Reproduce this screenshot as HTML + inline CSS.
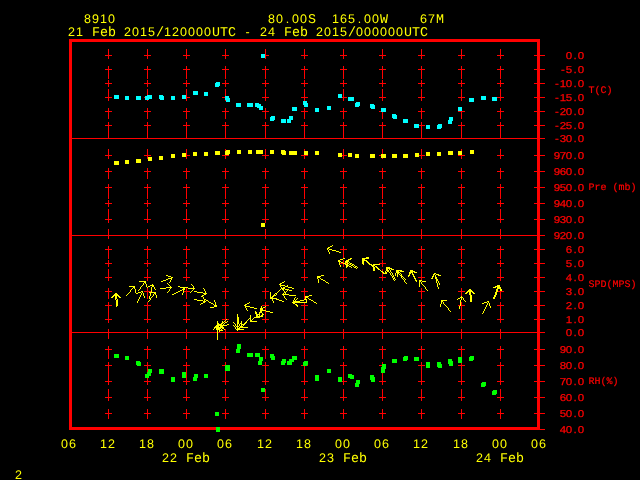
<!DOCTYPE html>
<html><head><meta charset="utf-8"><title>Meteogram 8910</title>
<style>
html,body{margin:0;padding:0;background:#000;}
body{width:640px;height:480px;overflow:hidden;}
svg{display:block;text-rendering:geometricPrecision;}
.big{font-family:"Liberation Sans","DejaVu Sans",sans-serif;font-size:12.5px;fill:#ff0;white-space:pre;}
.big .m{font-family:"Liberation Mono","DejaVu Sans Mono",monospace;font-size:13.33px;}
.sm{font-family:"Liberation Sans","DejaVu Sans",sans-serif;font-size:10px;fill:#f00;stroke:#f00;stroke-width:0.25px;white-space:pre;}
.smt{font-family:"Liberation Mono","DejaVu Sans Mono",monospace;font-size:10px;fill:#f00;stroke:#f00;stroke-width:0.2px;white-space:pre;}
</style></head><body>
<svg width="640" height="480" viewBox="0 0 640 480">
<rect width="640" height="480" fill="#000"/>
<g fill="#f00" shape-rendering="crispEdges">
<rect x="108" y="49" width="1" height="10"/><rect x="108" y="66" width="1" height="13"/><rect x="108" y="80" width="1" height="7"/><rect x="108" y="89" width="1" height="12"/><rect x="108" y="108" width="1" height="11"/><rect x="108" y="122" width="1" height="17"/><rect x="108" y="149" width="1" height="10"/><rect x="108" y="168" width="1" height="11"/><rect x="108" y="184" width="1" height="15"/><rect x="108" y="200" width="1" height="7"/><rect x="108" y="209" width="1" height="14"/><rect x="108" y="229" width="1" height="10"/><rect x="108" y="246" width="1" height="13"/><rect x="108" y="260" width="1" height="7"/><rect x="108" y="269" width="1" height="12"/><rect x="108" y="288" width="1" height="11"/><rect x="108" y="302" width="1" height="21"/><rect x="108" y="329" width="1" height="10"/><rect x="108" y="346" width="1" height="13"/><rect x="108" y="362" width="1" height="23"/><rect x="108" y="389" width="1" height="12"/><rect x="108" y="409" width="1" height="10"/><rect x="105" y="55" width="7" height="1"/><rect x="105" y="69" width="7" height="1"/><rect x="105" y="83" width="7" height="1"/><rect x="105" y="97" width="7" height="1"/><rect x="105" y="111" width="7" height="1"/><rect x="105" y="125" width="7" height="1"/><rect x="105" y="155" width="7" height="1"/><rect x="105" y="171" width="7" height="1"/><rect x="105" y="187" width="7" height="1"/><rect x="105" y="203" width="7" height="1"/><rect x="105" y="219" width="7" height="1"/><rect x="105" y="249" width="7" height="1"/><rect x="105" y="263" width="7" height="1"/><rect x="105" y="277" width="7" height="1"/><rect x="105" y="291" width="7" height="1"/><rect x="105" y="305" width="7" height="1"/><rect x="105" y="319" width="7" height="1"/><rect x="105" y="349" width="7" height="1"/><rect x="105" y="365" width="7" height="1"/><rect x="105" y="381" width="7" height="1"/><rect x="105" y="397" width="7" height="1"/><rect x="105" y="413" width="7" height="1"/>
<rect x="147" y="49" width="1" height="10"/><rect x="147" y="66" width="1" height="13"/><rect x="147" y="80" width="1" height="7"/><rect x="147" y="89" width="1" height="12"/><rect x="147" y="108" width="1" height="11"/><rect x="147" y="122" width="1" height="17"/><rect x="147" y="149" width="1" height="10"/><rect x="147" y="168" width="1" height="11"/><rect x="147" y="184" width="1" height="15"/><rect x="147" y="200" width="1" height="7"/><rect x="147" y="209" width="1" height="14"/><rect x="147" y="229" width="1" height="10"/><rect x="147" y="246" width="1" height="13"/><rect x="147" y="260" width="1" height="7"/><rect x="147" y="269" width="1" height="12"/><rect x="147" y="288" width="1" height="11"/><rect x="147" y="302" width="1" height="21"/><rect x="147" y="329" width="1" height="10"/><rect x="147" y="346" width="1" height="13"/><rect x="147" y="362" width="1" height="23"/><rect x="147" y="389" width="1" height="12"/><rect x="147" y="409" width="1" height="10"/><rect x="144" y="55" width="7" height="1"/><rect x="144" y="69" width="7" height="1"/><rect x="144" y="83" width="7" height="1"/><rect x="144" y="97" width="7" height="1"/><rect x="144" y="111" width="7" height="1"/><rect x="144" y="125" width="7" height="1"/><rect x="144" y="155" width="7" height="1"/><rect x="144" y="171" width="7" height="1"/><rect x="144" y="187" width="7" height="1"/><rect x="144" y="203" width="7" height="1"/><rect x="144" y="219" width="7" height="1"/><rect x="144" y="249" width="7" height="1"/><rect x="144" y="263" width="7" height="1"/><rect x="144" y="277" width="7" height="1"/><rect x="144" y="291" width="7" height="1"/><rect x="144" y="305" width="7" height="1"/><rect x="144" y="319" width="7" height="1"/><rect x="144" y="349" width="7" height="1"/><rect x="144" y="365" width="7" height="1"/><rect x="144" y="381" width="7" height="1"/><rect x="144" y="397" width="7" height="1"/><rect x="144" y="413" width="7" height="1"/>
<rect x="186" y="49" width="1" height="10"/><rect x="186" y="66" width="1" height="13"/><rect x="186" y="80" width="1" height="7"/><rect x="186" y="89" width="1" height="12"/><rect x="186" y="108" width="1" height="11"/><rect x="186" y="122" width="1" height="17"/><rect x="186" y="149" width="1" height="10"/><rect x="186" y="168" width="1" height="11"/><rect x="186" y="184" width="1" height="15"/><rect x="186" y="200" width="1" height="7"/><rect x="186" y="209" width="1" height="14"/><rect x="186" y="229" width="1" height="10"/><rect x="186" y="246" width="1" height="13"/><rect x="186" y="260" width="1" height="7"/><rect x="186" y="269" width="1" height="12"/><rect x="186" y="288" width="1" height="11"/><rect x="186" y="302" width="1" height="21"/><rect x="186" y="329" width="1" height="10"/><rect x="186" y="346" width="1" height="13"/><rect x="186" y="362" width="1" height="23"/><rect x="186" y="389" width="1" height="12"/><rect x="186" y="409" width="1" height="10"/><rect x="183" y="55" width="7" height="1"/><rect x="183" y="69" width="7" height="1"/><rect x="183" y="83" width="7" height="1"/><rect x="183" y="97" width="7" height="1"/><rect x="183" y="111" width="7" height="1"/><rect x="183" y="125" width="7" height="1"/><rect x="183" y="155" width="7" height="1"/><rect x="183" y="171" width="7" height="1"/><rect x="183" y="187" width="7" height="1"/><rect x="183" y="203" width="7" height="1"/><rect x="183" y="219" width="7" height="1"/><rect x="183" y="249" width="7" height="1"/><rect x="183" y="263" width="7" height="1"/><rect x="183" y="277" width="7" height="1"/><rect x="183" y="291" width="7" height="1"/><rect x="183" y="305" width="7" height="1"/><rect x="183" y="319" width="7" height="1"/><rect x="183" y="349" width="7" height="1"/><rect x="183" y="365" width="7" height="1"/><rect x="183" y="381" width="7" height="1"/><rect x="183" y="397" width="7" height="1"/><rect x="183" y="413" width="7" height="1"/>
<rect x="225" y="49" width="1" height="10"/><rect x="225" y="66" width="1" height="13"/><rect x="225" y="80" width="1" height="7"/><rect x="225" y="89" width="1" height="12"/><rect x="225" y="108" width="1" height="11"/><rect x="225" y="122" width="1" height="17"/><rect x="225" y="149" width="1" height="10"/><rect x="225" y="168" width="1" height="11"/><rect x="225" y="184" width="1" height="15"/><rect x="225" y="200" width="1" height="7"/><rect x="225" y="209" width="1" height="14"/><rect x="225" y="229" width="1" height="10"/><rect x="225" y="246" width="1" height="13"/><rect x="225" y="260" width="1" height="7"/><rect x="225" y="269" width="1" height="12"/><rect x="225" y="288" width="1" height="11"/><rect x="225" y="302" width="1" height="21"/><rect x="225" y="329" width="1" height="10"/><rect x="225" y="346" width="1" height="13"/><rect x="225" y="362" width="1" height="23"/><rect x="225" y="389" width="1" height="12"/><rect x="225" y="409" width="1" height="10"/><rect x="222" y="55" width="7" height="1"/><rect x="222" y="69" width="7" height="1"/><rect x="222" y="83" width="7" height="1"/><rect x="222" y="97" width="7" height="1"/><rect x="222" y="111" width="7" height="1"/><rect x="222" y="125" width="7" height="1"/><rect x="222" y="155" width="7" height="1"/><rect x="222" y="171" width="7" height="1"/><rect x="222" y="187" width="7" height="1"/><rect x="222" y="203" width="7" height="1"/><rect x="222" y="219" width="7" height="1"/><rect x="222" y="249" width="7" height="1"/><rect x="222" y="263" width="7" height="1"/><rect x="222" y="277" width="7" height="1"/><rect x="222" y="291" width="7" height="1"/><rect x="222" y="305" width="7" height="1"/><rect x="222" y="319" width="7" height="1"/><rect x="222" y="349" width="7" height="1"/><rect x="222" y="365" width="7" height="1"/><rect x="222" y="381" width="7" height="1"/><rect x="222" y="397" width="7" height="1"/><rect x="222" y="413" width="7" height="1"/>
<rect x="265" y="49" width="1" height="10"/><rect x="265" y="66" width="1" height="13"/><rect x="265" y="80" width="1" height="7"/><rect x="265" y="89" width="1" height="12"/><rect x="265" y="108" width="1" height="11"/><rect x="265" y="122" width="1" height="17"/><rect x="265" y="149" width="1" height="10"/><rect x="265" y="168" width="1" height="11"/><rect x="265" y="184" width="1" height="15"/><rect x="265" y="200" width="1" height="7"/><rect x="265" y="209" width="1" height="14"/><rect x="265" y="229" width="1" height="10"/><rect x="265" y="246" width="1" height="13"/><rect x="265" y="260" width="1" height="7"/><rect x="265" y="269" width="1" height="12"/><rect x="265" y="288" width="1" height="11"/><rect x="265" y="302" width="1" height="21"/><rect x="265" y="329" width="1" height="10"/><rect x="265" y="346" width="1" height="13"/><rect x="265" y="362" width="1" height="23"/><rect x="265" y="389" width="1" height="12"/><rect x="265" y="409" width="1" height="10"/><rect x="262" y="55" width="7" height="1"/><rect x="262" y="69" width="7" height="1"/><rect x="262" y="83" width="7" height="1"/><rect x="262" y="97" width="7" height="1"/><rect x="262" y="111" width="7" height="1"/><rect x="262" y="125" width="7" height="1"/><rect x="262" y="155" width="7" height="1"/><rect x="262" y="171" width="7" height="1"/><rect x="262" y="187" width="7" height="1"/><rect x="262" y="203" width="7" height="1"/><rect x="262" y="219" width="7" height="1"/><rect x="262" y="249" width="7" height="1"/><rect x="262" y="263" width="7" height="1"/><rect x="262" y="277" width="7" height="1"/><rect x="262" y="291" width="7" height="1"/><rect x="262" y="305" width="7" height="1"/><rect x="262" y="319" width="7" height="1"/><rect x="262" y="349" width="7" height="1"/><rect x="262" y="365" width="7" height="1"/><rect x="262" y="381" width="7" height="1"/><rect x="262" y="397" width="7" height="1"/><rect x="262" y="413" width="7" height="1"/>
<rect x="304" y="49" width="1" height="10"/><rect x="304" y="66" width="1" height="13"/><rect x="304" y="80" width="1" height="7"/><rect x="304" y="89" width="1" height="12"/><rect x="304" y="108" width="1" height="11"/><rect x="304" y="122" width="1" height="17"/><rect x="304" y="149" width="1" height="10"/><rect x="304" y="168" width="1" height="11"/><rect x="304" y="184" width="1" height="15"/><rect x="304" y="200" width="1" height="7"/><rect x="304" y="209" width="1" height="14"/><rect x="304" y="229" width="1" height="10"/><rect x="304" y="246" width="1" height="13"/><rect x="304" y="260" width="1" height="7"/><rect x="304" y="269" width="1" height="12"/><rect x="304" y="288" width="1" height="11"/><rect x="304" y="302" width="1" height="21"/><rect x="304" y="329" width="1" height="10"/><rect x="304" y="346" width="1" height="13"/><rect x="304" y="362" width="1" height="23"/><rect x="304" y="389" width="1" height="12"/><rect x="304" y="409" width="1" height="10"/><rect x="301" y="55" width="7" height="1"/><rect x="301" y="69" width="7" height="1"/><rect x="301" y="83" width="7" height="1"/><rect x="301" y="97" width="7" height="1"/><rect x="301" y="111" width="7" height="1"/><rect x="301" y="125" width="7" height="1"/><rect x="301" y="155" width="7" height="1"/><rect x="301" y="171" width="7" height="1"/><rect x="301" y="187" width="7" height="1"/><rect x="301" y="203" width="7" height="1"/><rect x="301" y="219" width="7" height="1"/><rect x="301" y="249" width="7" height="1"/><rect x="301" y="263" width="7" height="1"/><rect x="301" y="277" width="7" height="1"/><rect x="301" y="291" width="7" height="1"/><rect x="301" y="305" width="7" height="1"/><rect x="301" y="319" width="7" height="1"/><rect x="301" y="349" width="7" height="1"/><rect x="301" y="365" width="7" height="1"/><rect x="301" y="381" width="7" height="1"/><rect x="301" y="397" width="7" height="1"/><rect x="301" y="413" width="7" height="1"/>
<rect x="343" y="49" width="1" height="10"/><rect x="343" y="66" width="1" height="13"/><rect x="343" y="80" width="1" height="7"/><rect x="343" y="89" width="1" height="12"/><rect x="343" y="108" width="1" height="11"/><rect x="343" y="122" width="1" height="17"/><rect x="343" y="149" width="1" height="10"/><rect x="343" y="168" width="1" height="11"/><rect x="343" y="184" width="1" height="15"/><rect x="343" y="200" width="1" height="7"/><rect x="343" y="209" width="1" height="14"/><rect x="343" y="229" width="1" height="10"/><rect x="343" y="246" width="1" height="13"/><rect x="343" y="260" width="1" height="7"/><rect x="343" y="269" width="1" height="12"/><rect x="343" y="288" width="1" height="11"/><rect x="343" y="302" width="1" height="21"/><rect x="343" y="329" width="1" height="10"/><rect x="343" y="346" width="1" height="13"/><rect x="343" y="362" width="1" height="23"/><rect x="343" y="389" width="1" height="12"/><rect x="343" y="409" width="1" height="10"/><rect x="340" y="55" width="7" height="1"/><rect x="340" y="69" width="7" height="1"/><rect x="340" y="83" width="7" height="1"/><rect x="340" y="97" width="7" height="1"/><rect x="340" y="111" width="7" height="1"/><rect x="340" y="125" width="7" height="1"/><rect x="340" y="155" width="7" height="1"/><rect x="340" y="171" width="7" height="1"/><rect x="340" y="187" width="7" height="1"/><rect x="340" y="203" width="7" height="1"/><rect x="340" y="219" width="7" height="1"/><rect x="340" y="249" width="7" height="1"/><rect x="340" y="263" width="7" height="1"/><rect x="340" y="277" width="7" height="1"/><rect x="340" y="291" width="7" height="1"/><rect x="340" y="305" width="7" height="1"/><rect x="340" y="319" width="7" height="1"/><rect x="340" y="349" width="7" height="1"/><rect x="340" y="365" width="7" height="1"/><rect x="340" y="381" width="7" height="1"/><rect x="340" y="397" width="7" height="1"/><rect x="340" y="413" width="7" height="1"/>
<rect x="382" y="49" width="1" height="10"/><rect x="382" y="66" width="1" height="13"/><rect x="382" y="80" width="1" height="7"/><rect x="382" y="89" width="1" height="12"/><rect x="382" y="108" width="1" height="11"/><rect x="382" y="122" width="1" height="17"/><rect x="382" y="149" width="1" height="10"/><rect x="382" y="168" width="1" height="11"/><rect x="382" y="184" width="1" height="15"/><rect x="382" y="200" width="1" height="7"/><rect x="382" y="209" width="1" height="14"/><rect x="382" y="229" width="1" height="10"/><rect x="382" y="246" width="1" height="13"/><rect x="382" y="260" width="1" height="7"/><rect x="382" y="269" width="1" height="12"/><rect x="382" y="288" width="1" height="11"/><rect x="382" y="302" width="1" height="21"/><rect x="382" y="329" width="1" height="10"/><rect x="382" y="346" width="1" height="13"/><rect x="382" y="362" width="1" height="23"/><rect x="382" y="389" width="1" height="12"/><rect x="382" y="409" width="1" height="10"/><rect x="379" y="55" width="7" height="1"/><rect x="379" y="69" width="7" height="1"/><rect x="379" y="83" width="7" height="1"/><rect x="379" y="97" width="7" height="1"/><rect x="379" y="111" width="7" height="1"/><rect x="379" y="125" width="7" height="1"/><rect x="379" y="155" width="7" height="1"/><rect x="379" y="171" width="7" height="1"/><rect x="379" y="187" width="7" height="1"/><rect x="379" y="203" width="7" height="1"/><rect x="379" y="219" width="7" height="1"/><rect x="379" y="249" width="7" height="1"/><rect x="379" y="263" width="7" height="1"/><rect x="379" y="277" width="7" height="1"/><rect x="379" y="291" width="7" height="1"/><rect x="379" y="305" width="7" height="1"/><rect x="379" y="319" width="7" height="1"/><rect x="379" y="349" width="7" height="1"/><rect x="379" y="365" width="7" height="1"/><rect x="379" y="381" width="7" height="1"/><rect x="379" y="397" width="7" height="1"/><rect x="379" y="413" width="7" height="1"/>
<rect x="421" y="49" width="1" height="10"/><rect x="421" y="66" width="1" height="13"/><rect x="421" y="80" width="1" height="7"/><rect x="421" y="89" width="1" height="12"/><rect x="421" y="108" width="1" height="11"/><rect x="421" y="122" width="1" height="17"/><rect x="421" y="149" width="1" height="10"/><rect x="421" y="168" width="1" height="11"/><rect x="421" y="184" width="1" height="15"/><rect x="421" y="200" width="1" height="7"/><rect x="421" y="209" width="1" height="14"/><rect x="421" y="229" width="1" height="10"/><rect x="421" y="246" width="1" height="13"/><rect x="421" y="260" width="1" height="7"/><rect x="421" y="269" width="1" height="12"/><rect x="421" y="288" width="1" height="11"/><rect x="421" y="302" width="1" height="21"/><rect x="421" y="329" width="1" height="10"/><rect x="421" y="346" width="1" height="13"/><rect x="421" y="362" width="1" height="23"/><rect x="421" y="389" width="1" height="12"/><rect x="421" y="409" width="1" height="10"/><rect x="418" y="55" width="7" height="1"/><rect x="418" y="69" width="7" height="1"/><rect x="418" y="83" width="7" height="1"/><rect x="418" y="97" width="7" height="1"/><rect x="418" y="111" width="7" height="1"/><rect x="418" y="125" width="7" height="1"/><rect x="418" y="155" width="7" height="1"/><rect x="418" y="171" width="7" height="1"/><rect x="418" y="187" width="7" height="1"/><rect x="418" y="203" width="7" height="1"/><rect x="418" y="219" width="7" height="1"/><rect x="418" y="249" width="7" height="1"/><rect x="418" y="263" width="7" height="1"/><rect x="418" y="277" width="7" height="1"/><rect x="418" y="291" width="7" height="1"/><rect x="418" y="305" width="7" height="1"/><rect x="418" y="319" width="7" height="1"/><rect x="418" y="349" width="7" height="1"/><rect x="418" y="365" width="7" height="1"/><rect x="418" y="381" width="7" height="1"/><rect x="418" y="397" width="7" height="1"/><rect x="418" y="413" width="7" height="1"/>
<rect x="461" y="49" width="1" height="10"/><rect x="461" y="66" width="1" height="13"/><rect x="461" y="80" width="1" height="7"/><rect x="461" y="89" width="1" height="12"/><rect x="461" y="108" width="1" height="11"/><rect x="461" y="122" width="1" height="17"/><rect x="461" y="149" width="1" height="10"/><rect x="461" y="168" width="1" height="11"/><rect x="461" y="184" width="1" height="15"/><rect x="461" y="200" width="1" height="7"/><rect x="461" y="209" width="1" height="14"/><rect x="461" y="229" width="1" height="10"/><rect x="461" y="246" width="1" height="13"/><rect x="461" y="260" width="1" height="7"/><rect x="461" y="269" width="1" height="12"/><rect x="461" y="288" width="1" height="11"/><rect x="461" y="302" width="1" height="21"/><rect x="461" y="329" width="1" height="10"/><rect x="461" y="346" width="1" height="13"/><rect x="461" y="362" width="1" height="23"/><rect x="461" y="389" width="1" height="12"/><rect x="461" y="409" width="1" height="10"/><rect x="458" y="55" width="7" height="1"/><rect x="458" y="69" width="7" height="1"/><rect x="458" y="83" width="7" height="1"/><rect x="458" y="97" width="7" height="1"/><rect x="458" y="111" width="7" height="1"/><rect x="458" y="125" width="7" height="1"/><rect x="458" y="155" width="7" height="1"/><rect x="458" y="171" width="7" height="1"/><rect x="458" y="187" width="7" height="1"/><rect x="458" y="203" width="7" height="1"/><rect x="458" y="219" width="7" height="1"/><rect x="458" y="249" width="7" height="1"/><rect x="458" y="263" width="7" height="1"/><rect x="458" y="277" width="7" height="1"/><rect x="458" y="291" width="7" height="1"/><rect x="458" y="305" width="7" height="1"/><rect x="458" y="319" width="7" height="1"/><rect x="458" y="349" width="7" height="1"/><rect x="458" y="365" width="7" height="1"/><rect x="458" y="381" width="7" height="1"/><rect x="458" y="397" width="7" height="1"/><rect x="458" y="413" width="7" height="1"/>
<rect x="500" y="49" width="1" height="10"/><rect x="500" y="66" width="1" height="13"/><rect x="500" y="80" width="1" height="7"/><rect x="500" y="89" width="1" height="12"/><rect x="500" y="108" width="1" height="11"/><rect x="500" y="122" width="1" height="17"/><rect x="500" y="149" width="1" height="10"/><rect x="500" y="168" width="1" height="11"/><rect x="500" y="184" width="1" height="15"/><rect x="500" y="200" width="1" height="7"/><rect x="500" y="209" width="1" height="14"/><rect x="500" y="229" width="1" height="10"/><rect x="500" y="246" width="1" height="13"/><rect x="500" y="260" width="1" height="7"/><rect x="500" y="269" width="1" height="12"/><rect x="500" y="288" width="1" height="11"/><rect x="500" y="302" width="1" height="21"/><rect x="500" y="329" width="1" height="10"/><rect x="500" y="346" width="1" height="13"/><rect x="500" y="362" width="1" height="23"/><rect x="500" y="389" width="1" height="12"/><rect x="500" y="409" width="1" height="10"/><rect x="497" y="55" width="7" height="1"/><rect x="497" y="69" width="7" height="1"/><rect x="497" y="83" width="7" height="1"/><rect x="497" y="97" width="7" height="1"/><rect x="497" y="111" width="7" height="1"/><rect x="497" y="125" width="7" height="1"/><rect x="497" y="155" width="7" height="1"/><rect x="497" y="171" width="7" height="1"/><rect x="497" y="187" width="7" height="1"/><rect x="497" y="203" width="7" height="1"/><rect x="497" y="219" width="7" height="1"/><rect x="497" y="249" width="7" height="1"/><rect x="497" y="263" width="7" height="1"/><rect x="497" y="277" width="7" height="1"/><rect x="497" y="291" width="7" height="1"/><rect x="497" y="305" width="7" height="1"/><rect x="497" y="319" width="7" height="1"/><rect x="497" y="349" width="7" height="1"/><rect x="497" y="365" width="7" height="1"/><rect x="497" y="381" width="7" height="1"/><rect x="497" y="397" width="7" height="1"/><rect x="497" y="413" width="7" height="1"/>
<rect x="72" y="138" width="473" height="1"/><rect x="72" y="235" width="473" height="1"/><rect x="72" y="332" width="473" height="1"/><rect x="534" y="55" width="11" height="1"/><rect x="534" y="69" width="11" height="1"/><rect x="534" y="83" width="11" height="1"/><rect x="534" y="97" width="11" height="1"/><rect x="534" y="111" width="11" height="1"/><rect x="534" y="125" width="11" height="1"/><rect x="534" y="155" width="11" height="1"/><rect x="534" y="171" width="11" height="1"/><rect x="534" y="187" width="11" height="1"/><rect x="534" y="203" width="11" height="1"/><rect x="534" y="219" width="11" height="1"/><rect x="534" y="249" width="11" height="1"/><rect x="534" y="263" width="11" height="1"/><rect x="534" y="277" width="11" height="1"/><rect x="534" y="291" width="11" height="1"/><rect x="534" y="305" width="11" height="1"/><rect x="534" y="319" width="11" height="1"/><rect x="534" y="349" width="11" height="1"/><rect x="534" y="365" width="11" height="1"/><rect x="534" y="381" width="11" height="1"/><rect x="534" y="397" width="11" height="1"/><rect x="534" y="413" width="11" height="1"/><rect x="534" y="429" width="11" height="1"/>
<rect x="69" y="39" width="471" height="3"/><rect x="69" y="427" width="471" height="3"/><rect x="69" y="39" width="3" height="391"/><rect x="537" y="39" width="3" height="391"/>
</g>
<g fill="#0ff" shape-rendering="crispEdges"><rect x="114" y="95" width="5" height="4"/><rect x="125" y="96" width="4" height="4"/><rect x="136" y="96" width="5" height="4"/><rect x="145" y="96" width="4" height="4"/><rect x="147" y="95" width="5" height="4"/><rect x="159" y="95" width="4" height="4"/><rect x="160" y="96" width="4" height="4"/><rect x="171" y="96" width="4" height="4"/><rect x="182" y="95" width="4" height="4"/><rect x="193" y="91" width="5" height="4"/><rect x="204" y="92" width="4" height="4"/><rect x="215" y="83" width="4" height="4"/><rect x="216" y="82" width="4" height="4"/><rect x="225" y="96" width="4" height="4"/><rect x="226" y="98" width="4" height="4"/><rect x="236" y="103" width="5" height="4"/><rect x="247" y="103" width="6" height="4"/><rect x="255" y="103" width="4" height="4"/><rect x="257" y="104" width="4" height="4"/><rect x="259" y="106" width="4" height="4"/><rect x="261" y="54" width="4" height="4"/><rect x="270" y="117" width="4" height="4"/><rect x="271" y="116" width="4" height="4"/><rect x="281" y="119" width="5" height="4"/><rect x="287" y="119" width="4" height="4"/><rect x="289" y="116" width="4" height="4"/><rect x="292" y="107" width="5" height="4"/><rect x="303" y="101" width="4" height="4"/><rect x="304" y="103" width="4" height="4"/><rect x="315" y="108" width="4" height="4"/><rect x="327" y="106" width="4" height="4"/><rect x="338" y="94" width="4" height="4"/><rect x="348" y="97" width="6" height="4"/><rect x="355" y="103" width="4" height="4"/><rect x="356" y="102" width="4" height="4"/><rect x="370" y="104" width="4" height="4"/><rect x="371" y="105" width="4" height="4"/><rect x="381" y="108" width="5" height="4"/><rect x="392" y="114" width="4" height="4"/><rect x="393" y="115" width="4" height="4"/><rect x="403" y="119" width="5" height="4"/><rect x="414" y="124" width="5" height="4"/><rect x="426" y="125" width="4" height="4"/><rect x="437" y="125" width="4" height="4"/><rect x="438" y="124" width="4" height="4"/><rect x="448" y="120" width="4" height="4"/><rect x="449" y="117" width="4" height="4"/><rect x="458" y="107" width="4" height="4"/><rect x="469" y="98" width="5" height="4"/><rect x="481" y="96" width="5" height="4"/><rect x="492" y="97" width="5" height="4"/></g>
<g fill="#ff0" shape-rendering="crispEdges"><rect x="114" y="161" width="5" height="4"/><rect x="125" y="160" width="4" height="4"/><rect x="136" y="159" width="5" height="4"/><rect x="148" y="157" width="4" height="4"/><rect x="159" y="156" width="4" height="4"/><rect x="171" y="154" width="4" height="4"/><rect x="182" y="153" width="4" height="4"/><rect x="193" y="152" width="4" height="4"/><rect x="204" y="152" width="4" height="4"/><rect x="215" y="151" width="5" height="4"/><rect x="225" y="151" width="4" height="4"/><rect x="226" y="150" width="4" height="4"/><rect x="237" y="150" width="4" height="4"/><rect x="248" y="150" width="4" height="4"/><rect x="256" y="150" width="7" height="4"/><rect x="270" y="150" width="4" height="4"/><rect x="281" y="150" width="4" height="4"/><rect x="282" y="151" width="4" height="4"/><rect x="289" y="151" width="8" height="4"/><rect x="304" y="151" width="4" height="4"/><rect x="315" y="151" width="4" height="4"/><rect x="261" y="223" width="4" height="4"/><rect x="338" y="153" width="4" height="4"/><rect x="348" y="153" width="4" height="4"/><rect x="355" y="154" width="4" height="4"/><rect x="370" y="154" width="5" height="4"/><rect x="381" y="154" width="5" height="4"/><rect x="392" y="154" width="5" height="4"/><rect x="403" y="154" width="5" height="4"/><rect x="415" y="153" width="4" height="4"/><rect x="426" y="152" width="4" height="4"/><rect x="437" y="152" width="4" height="4"/><rect x="448" y="151" width="5" height="4"/><rect x="458" y="151" width="4" height="4"/><rect x="470" y="150" width="4" height="4"/></g>
<g fill="#0f0" shape-rendering="crispEdges"><rect x="114" y="354" width="5" height="4"/><rect x="125" y="356" width="4" height="4"/><rect x="136" y="361" width="4" height="4"/><rect x="137" y="362" width="4" height="4"/><rect x="145" y="374" width="4" height="4"/><rect x="147" y="372" width="4" height="4"/><rect x="148" y="369" width="4" height="4"/><rect x="159" y="369" width="5" height="5"/><rect x="171" y="377" width="4" height="5"/><rect x="182" y="372" width="4" height="6"/><rect x="193" y="377" width="4" height="4"/><rect x="194" y="374" width="4" height="4"/><rect x="204" y="374" width="4" height="4"/><rect x="215" y="412" width="4" height="4"/><rect x="225" y="365" width="5" height="6"/><rect x="236" y="349" width="4" height="4"/><rect x="237" y="344" width="4" height="5"/><rect x="247" y="353" width="6" height="4"/><rect x="255" y="353" width="5" height="4"/><rect x="259" y="357" width="4" height="4"/><rect x="258" y="361" width="4" height="4"/><rect x="261" y="388" width="4" height="4"/><rect x="270" y="354" width="4" height="4"/><rect x="271" y="356" width="4" height="4"/><rect x="281" y="361" width="4" height="4"/><rect x="282" y="359" width="4" height="4"/><rect x="287" y="361" width="5" height="4"/><rect x="289" y="359" width="5" height="3"/><rect x="292" y="356" width="5" height="4"/><rect x="303" y="362" width="4" height="4"/><rect x="304" y="361" width="4" height="4"/><rect x="315" y="375" width="4" height="6"/><rect x="327" y="369" width="4" height="4"/><rect x="338" y="377" width="4" height="5"/><rect x="348" y="374" width="4" height="4"/><rect x="350" y="375" width="4" height="4"/><rect x="355" y="383" width="4" height="4"/><rect x="356" y="380" width="4" height="4"/><rect x="370" y="375" width="4" height="5"/><rect x="371" y="377" width="4" height="5"/><rect x="381" y="367" width="4" height="6"/><rect x="382" y="364" width="4" height="5"/><rect x="392" y="359" width="5" height="4"/><rect x="403" y="357" width="4" height="4"/><rect x="404" y="356" width="4" height="4"/><rect x="414" y="357" width="5" height="4"/><rect x="426" y="362" width="4" height="6"/><rect x="437" y="362" width="4" height="5"/><rect x="438" y="364" width="4" height="4"/><rect x="448" y="359" width="4" height="5"/><rect x="449" y="361" width="4" height="5"/><rect x="458" y="357" width="4" height="6"/><rect x="469" y="357" width="4" height="4"/><rect x="470" y="356" width="4" height="4"/><rect x="481" y="383" width="4" height="4"/><rect x="482" y="382" width="4" height="4"/><rect x="492" y="391" width="4" height="4"/><rect x="493" y="390" width="4" height="4"/><rect x="216" y="427" width="4" height="5"/></g>
<path fill="#ff0" shape-rendering="crispEdges" d="M332 245h1v1h-1zM330 246h2v1h-2zM328 247h2v1h-2zM327 248h2v1h-2zM327 249h1v1h-1zM329 249h3v1h-3zM328 250h1v1h-1zM332 250h4v1h-4zM328 251h1v1h-1zM336 251h3v1h-3zM329 252h1v1h-1zM339 252h2v1h-2zM329 253h1v1h-1zM366 257h3v1h-3zM343 258h2v1h-2zM350 258h2v1h-2zM362 258h7v1h-7zM340 259h3v1h-3zM348 259h3v1h-3zM362 259h3v1h-3zM338 260h2v1h-2zM346 260h3v1h-3zM362 260h5v1h-5zM338 261h3v1h-3zM345 261h4v1h-4zM362 261h2v1h-2zM366 261h2v1h-2zM339 262h1v1h-1zM341 262h2v1h-2zM345 262h3v1h-3zM349 262h1v1h-1zM362 262h2v1h-2zM367 262h2v1h-2zM339 263h1v1h-1zM343 263h3v1h-3zM347 263h2v1h-2zM350 263h2v1h-2zM362 263h2v1h-2zM368 263h2v1h-2zM339 264h1v1h-1zM345 264h3v1h-3zM349 264h2v1h-2zM352 264h2v1h-2zM363 264h1v1h-1zM369 264h3v1h-3zM373 264h7v1h-7zM340 265h1v1h-1zM346 265h3v1h-3zM351 265h2v1h-2zM354 265h1v1h-1zM371 265h4v1h-4zM340 266h1v1h-1zM346 266h2v1h-2zM349 266h2v1h-2zM353 266h1v1h-1zM355 266h2v1h-2zM372 266h2v1h-2zM375 266h2v1h-2zM346 267h1v1h-1zM351 267h1v1h-1zM354 267h2v1h-2zM357 267h1v1h-1zM373 267h2v1h-2zM376 267h2v1h-2zM386 267h4v1h-4zM356 268h1v1h-1zM373 268h2v1h-2zM377 268h2v1h-2zM386 268h6v1h-6zM373 269h2v1h-2zM378 269h2v1h-2zM386 269h2v1h-2zM389 269h1v1h-1zM391 269h3v1h-3zM373 270h2v1h-2zM380 270h1v1h-1zM386 270h3v1h-3zM390 270h1v1h-1zM396 270h6v1h-6zM410 270h3v1h-3zM381 271h2v1h-2zM385 271h1v1h-1zM387 271h2v1h-2zM390 271h1v1h-1zM396 271h3v1h-3zM400 271h4v1h-4zM410 271h5v1h-5zM382 272h2v1h-2zM385 272h2v1h-2zM389 272h1v1h-1zM391 272h1v1h-1zM396 272h4v1h-4zM409 272h4v1h-4zM414 272h3v1h-3zM383 273h4v1h-4zM390 273h1v1h-1zM392 273h1v1h-1zM395 273h1v1h-1zM397 273h2v1h-2zM400 273h1v1h-1zM409 273h2v1h-2zM412 273h1v1h-1zM434 273h2v1h-2zM390 274h1v1h-1zM392 274h1v1h-1zM395 274h1v1h-1zM397 274h1v1h-1zM399 274h1v1h-1zM401 274h1v1h-1zM409 274h1v1h-1zM412 274h2v1h-2zM433 274h2v1h-2zM436 274h3v1h-3zM166 275h2v1h-2zM321 275h3v1h-3zM391 275h1v1h-1zM393 275h1v1h-1zM395 275h1v1h-1zM397 275h1v1h-1zM400 275h2v1h-2zM408 275h2v1h-2zM413 275h1v1h-1zM433 275h1v1h-1zM435 275h1v1h-1zM438 275h3v1h-3zM168 276h3v1h-3zM317 276h4v1h-4zM392 276h2v1h-2zM397 276h1v1h-1zM401 276h2v1h-2zM408 276h1v1h-1zM413 276h2v1h-2zM432 276h2v1h-2zM435 276h1v1h-1zM171 277h2v1h-2zM317 277h3v1h-3zM392 277h1v1h-1zM394 277h1v1h-1zM401 277h1v1h-1zM403 277h1v1h-1zM414 277h1v1h-1zM432 277h1v1h-1zM435 277h2v1h-2zM168 278h4v1h-4zM317 278h1v1h-1zM320 278h1v1h-1zM393 278h2v1h-2zM402 278h1v1h-1zM404 278h1v1h-1zM414 278h2v1h-2zM431 278h2v1h-2zM435 278h2v1h-2zM166 279h2v1h-2zM171 279h1v1h-1zM318 279h1v1h-1zM321 279h2v1h-2zM393 279h1v1h-1zM395 279h1v1h-1zM403 279h1v1h-1zM405 279h1v1h-1zM415 279h1v1h-1zM436 279h2v1h-2zM163 280h3v1h-3zM170 280h1v1h-1zM318 280h1v1h-1zM323 280h2v1h-2zM394 280h1v1h-1zM404 280h1v1h-1zM415 280h2v1h-2zM419 280h3v1h-3zM436 280h2v1h-2zM139 281h7v1h-7zM161 281h2v1h-2zM170 281h1v1h-1zM284 281h1v1h-1zM318 281h1v1h-1zM325 281h1v1h-1zM404 281h1v1h-1zM416 281h1v1h-1zM419 281h2v1h-2zM422 281h4v1h-4zM436 281h1v1h-1zM438 281h1v1h-1zM144 282h2v1h-2zM169 282h1v1h-1zM282 282h2v1h-2zM318 282h1v1h-1zM326 282h2v1h-2zM405 282h1v1h-1zM419 282h1v1h-1zM421 282h1v1h-1zM436 282h1v1h-1zM438 282h1v1h-1zM143 283h1v1h-1zM145 283h1v1h-1zM167 283h1v1h-1zM280 283h2v1h-2zM328 283h1v1h-1zM406 283h1v1h-1zM419 283h1v1h-1zM421 283h1v1h-1zM437 283h1v1h-1zM439 283h1v1h-1zM143 284h1v1h-1zM146 284h1v1h-1zM152 284h1v1h-1zM168 284h1v1h-1zM191 284h1v1h-1zM279 284h2v1h-2zM419 284h1v1h-1zM422 284h1v1h-1zM437 284h1v1h-1zM439 284h1v1h-1zM142 285h1v1h-1zM146 285h1v1h-1zM150 285h4v1h-4zM169 285h1v1h-1zM192 285h1v1h-1zM280 285h5v1h-5zM287 285h1v1h-1zM419 285h1v1h-1zM423 285h1v1h-1zM437 285h1v1h-1zM497 285h3v1h-3zM129 286h6v1h-6zM141 286h1v1h-1zM146 286h1v1h-1zM148 286h2v1h-2zM152 286h2v1h-2zM170 286h1v1h-1zM178 286h2v1h-2zM193 286h1v1h-1zM280 286h1v1h-1zM285 286h3v1h-3zM419 286h1v1h-1zM424 286h1v1h-1zM437 286h1v1h-1zM495 286h5v1h-5zM133 287h2v1h-2zM140 287h1v1h-1zM147 287h1v1h-1zM151 287h1v1h-1zM154 287h1v1h-1zM166 287h6v1h-6zM180 287h8v1h-8zM193 287h1v1h-1zM281 287h1v1h-1zM283 287h2v1h-2zM288 287h4v1h-4zM425 287h1v1h-1zM438 287h1v1h-1zM493 287h3v1h-3zM497 287h4v1h-4zM132 288h1v1h-1zM134 288h1v1h-1zM140 288h1v1h-1zM151 288h1v1h-1zM154 288h1v1h-1zM160 288h6v1h-6zM170 288h1v1h-1zM183 288h2v1h-2zM188 288h7v1h-7zM203 288h1v1h-1zM281 288h4v1h-4zM292 288h2v1h-2zM425 288h1v1h-1zM438 288h1v1h-1zM497 288h4v1h-4zM131 289h1v1h-1zM135 289h1v1h-1zM139 289h1v1h-1zM151 289h1v1h-1zM155 289h1v1h-1zM169 289h1v1h-1zM182 289h3v1h-3zM193 289h1v1h-1zM204 289h1v1h-1zM280 289h1v1h-1zM282 289h2v1h-2zM285 289h4v1h-4zM426 289h1v1h-1zM469 289h2v1h-2zM496 289h2v1h-2zM500 289h2v1h-2zM130 290h1v1h-1zM135 290h1v1h-1zM138 290h1v1h-1zM151 290h1v1h-1zM169 290h1v1h-1zM180 290h2v1h-2zM183 290h1v1h-1zM192 290h1v1h-1zM204 290h1v1h-1zM279 290h1v1h-1zM283 290h1v1h-1zM287 290h1v1h-1zM289 290h3v1h-3zM427 290h1v1h-1zM468 290h4v1h-4zM496 290h2v1h-2zM500 290h2v1h-2zM130 291h1v1h-1zM135 291h1v1h-1zM141 291h2v1h-2zM151 291h1v1h-1zM168 291h1v1h-1zM178 291h2v1h-2zM183 291h1v1h-1zM191 291h1v1h-1zM194 291h3v1h-3zM205 291h1v1h-1zM278 291h1v1h-1zM284 291h1v1h-1zM286 291h1v1h-1zM467 291h6v1h-6zM496 291h2v1h-2zM129 292h1v1h-1zM135 292h1v1h-1zM138 292h3v1h-3zM142 292h1v1h-1zM149 292h7v1h-7zM167 292h1v1h-1zM176 292h2v1h-2zM183 292h1v1h-1zM190 292h1v1h-1zM197 292h6v1h-6zM205 292h1v1h-1zM270 292h1v1h-1zM277 292h1v1h-1zM284 292h2v1h-2zM466 292h2v1h-2zM469 292h2v1h-2zM472 292h2v1h-2zM495 292h2v1h-2zM115 293h2v1h-2zM128 293h1v1h-1zM136 293h2v1h-2zM141 293h1v1h-1zM143 293h1v1h-1zM150 293h1v1h-1zM154 293h2v1h-2zM174 293h2v1h-2zM182 293h1v1h-1zM203 293h4v1h-4zM270 293h1v1h-1zM275 293h2v1h-2zM283 293h1v1h-1zM285 293h1v1h-1zM465 293h2v1h-2zM469 293h2v1h-2zM473 293h2v1h-2zM495 293h2v1h-2zM114 294h4v1h-4zM127 294h1v1h-1zM141 294h1v1h-1zM143 294h1v1h-1zM150 294h1v1h-1zM153 294h1v1h-1zM155 294h1v1h-1zM172 294h2v1h-2zM182 294h1v1h-1zM204 294h2v1h-2zM270 294h1v1h-1zM274 294h1v1h-1zM276 294h1v1h-1zM282 294h7v1h-7zM469 294h2v1h-2zM495 294h2v1h-2zM113 295h6v1h-6zM126 295h1v1h-1zM140 295h1v1h-1zM143 295h1v1h-1zM150 295h1v1h-1zM153 295h1v1h-1zM156 295h1v1h-1zM202 295h2v1h-2zM270 295h1v1h-1zM273 295h3v1h-3zM283 295h1v1h-1zM289 295h7v1h-7zM309 295h3v1h-3zM470 295h2v1h-2zM494 295h2v1h-2zM112 296h2v1h-2zM115 296h2v1h-2zM118 296h2v1h-2zM140 296h1v1h-1zM144 296h1v1h-1zM149 296h1v1h-1zM152 296h1v1h-1zM156 296h1v1h-1zM201 296h2v1h-2zM270 296h1v1h-1zM272 296h2v1h-2zM284 296h1v1h-1zM305 296h4v1h-4zM461 296h1v1h-1zM470 296h2v1h-2zM494 296h2v1h-2zM111 297h2v1h-2zM115 297h2v1h-2zM119 297h2v1h-2zM139 297h1v1h-1zM144 297h1v1h-1zM149 297h1v1h-1zM151 297h1v1h-1zM156 297h1v1h-1zM203 297h1v1h-1zM270 297h3v1h-3zM284 297h1v1h-1zM295 297h1v1h-1zM305 297h3v1h-3zM460 297h3v1h-3zM470 297h2v1h-2zM493 297h2v1h-2zM115 298h2v1h-2zM139 298h1v1h-1zM149 298h2v1h-2zM203 298h1v1h-1zM270 298h7v1h-7zM285 298h1v1h-1zM294 298h1v1h-1zM297 298h1v1h-1zM305 298h1v1h-1zM308 298h1v1h-1zM458 298h2v1h-2zM461 298h1v1h-1zM463 298h1v1h-1zM470 298h2v1h-2zM493 298h2v1h-2zM115 299h1v1h-1zM117 299h1v1h-1zM138 299h1v1h-1zM150 299h1v1h-1zM194 299h3v1h-3zM204 299h2v1h-2zM272 299h1v1h-1zM276 299h3v1h-3zM286 299h1v1h-1zM294 299h1v1h-1zM296 299h1v1h-1zM304 299h3v1h-3zM309 299h2v1h-2zM457 299h1v1h-1zM461 299h1v1h-1zM463 299h1v1h-1zM470 299h2v1h-2zM116 300h2v1h-2zM138 300h1v1h-1zM149 300h1v1h-1zM197 300h6v1h-6zM204 300h1v1h-1zM206 300h2v1h-2zM214 300h1v1h-1zM272 300h1v1h-1zM279 300h3v1h-3zM293 300h1v1h-1zM295 300h1v1h-1zM300 300h4v1h-4zM306 300h1v1h-1zM311 300h2v1h-2zM441 300h6v1h-6zM460 300h1v1h-1zM464 300h1v1h-1zM470 300h2v1h-2zM116 301h2v1h-2zM137 301h1v1h-1zM148 301h1v1h-1zM203 301h3v1h-3zM208 301h1v1h-1zM214 301h1v1h-1zM273 301h1v1h-1zM282 301h2v1h-2zM293 301h7v1h-7zM306 301h1v1h-1zM313 301h1v1h-1zM441 301h2v1h-2zM460 301h1v1h-1zM465 301h1v1h-1zM470 301h2v1h-2zM487 301h2v1h-2zM116 302h2v1h-2zM137 302h1v1h-1zM203 302h2v1h-2zM209 302h2v1h-2zM215 302h1v1h-1zM249 302h1v1h-1zM273 302h1v1h-1zM292 302h15v1h-15zM314 302h2v1h-2zM441 302h1v1h-1zM443 302h1v1h-1zM460 302h1v1h-1zM484 302h3v1h-3zM488 302h1v1h-1zM116 303h2v1h-2zM201 303h2v1h-2zM211 303h2v1h-2zM215 303h1v1h-1zM247 303h2v1h-2zM293 303h2v1h-2zM316 303h1v1h-1zM441 303h1v1h-1zM443 303h1v1h-1zM460 303h1v1h-1zM482 303h2v1h-2zM487 303h1v1h-1zM489 303h1v1h-1zM116 304h2v1h-2zM200 304h1v1h-1zM213 304h1v1h-1zM215 304h1v1h-1zM245 304h2v1h-2zM295 304h2v1h-2zM440 304h1v1h-1zM444 304h1v1h-1zM460 304h1v1h-1zM487 304h1v1h-1zM489 304h1v1h-1zM116 305h2v1h-2zM214 305h3v1h-3zM244 305h2v1h-2zM296 305h2v1h-2zM440 305h1v1h-1zM445 305h1v1h-1zM460 305h1v1h-1zM486 305h1v1h-1zM489 305h1v1h-1zM116 306h1v1h-1zM214 306h3v1h-3zM245 306h5v1h-5zM261 306h1v1h-1zM265 306h1v1h-1zM297 306h1v1h-1zM440 306h1v1h-1zM446 306h1v1h-1zM459 306h1v1h-1zM486 306h1v1h-1zM490 306h1v1h-1zM210 307h4v1h-4zM245 307h1v1h-1zM250 307h4v1h-4zM261 307h1v1h-1zM263 307h2v1h-2zM447 307h1v1h-1zM459 307h1v1h-1zM485 307h1v1h-1zM490 307h1v1h-1zM246 308h1v1h-1zM254 308h3v1h-3zM260 308h3v1h-3zM448 308h1v1h-1zM459 308h1v1h-1zM485 308h1v1h-1zM246 309h1v1h-1zM260 309h3v1h-3zM448 309h1v1h-1zM484 309h1v1h-1zM247 310h1v1h-1zM260 310h6v1h-6zM449 310h1v1h-1zM484 310h1v1h-1zM255 311h1v1h-1zM260 311h2v1h-2zM266 311h4v1h-4zM450 311h1v1h-1zM483 311h1v1h-1zM255 312h2v1h-2zM259 312h3v1h-3zM270 312h3v1h-3zM483 312h1v1h-1zM255 313h2v1h-2zM259 313h1v1h-1zM262 313h1v1h-1zM482 313h1v1h-1zM237 314h1v1h-1zM256 314h4v1h-4zM262 314h2v1h-2zM237 315h1v1h-1zM250 315h1v1h-1zM256 315h2v1h-2zM259 315h1v1h-1zM261 315h2v1h-2zM237 316h1v1h-1zM250 316h1v1h-1zM256 316h7v1h-7zM237 317h2v1h-2zM250 317h1v1h-1zM254 317h6v1h-6zM237 318h2v1h-2zM249 318h2v1h-2zM253 318h1v1h-1zM226 319h1v1h-1zM237 319h2v1h-2zM248 319h1v1h-1zM250 319h1v1h-1zM252 319h1v1h-1zM225 320h1v1h-1zM237 320h2v1h-2zM247 320h1v1h-1zM250 320h2v1h-2zM217 321h1v1h-1zM222 321h1v1h-1zM224 321h1v1h-1zM227 321h1v1h-1zM237 321h2v1h-2zM241 321h1v1h-1zM246 321h1v1h-1zM250 321h7v1h-7zM217 322h1v1h-1zM222 322h2v1h-2zM225 322h2v1h-2zM233 322h1v1h-1zM237 322h2v1h-2zM241 322h1v1h-1zM245 322h2v1h-2zM217 323h2v1h-2zM221 323h2v1h-2zM224 323h1v1h-1zM234 323h1v1h-1zM237 323h2v1h-2zM240 323h2v1h-2zM244 323h2v1h-2zM217 324h5v1h-5zM223 324h1v1h-1zM227 324h2v1h-2zM235 324h1v1h-1zM237 324h1v1h-1zM239 324h1v1h-1zM241 324h4v1h-4zM216 325h11v1h-11zM233 325h1v1h-1zM235 325h1v1h-1zM237 325h1v1h-1zM239 325h1v1h-1zM241 325h1v1h-1zM243 325h1v1h-1zM215 326h4v1h-4zM220 326h3v1h-3zM234 326h1v1h-1zM236 326h3v1h-3zM240 326h3v1h-3zM214 327h10v1h-10zM235 327h1v1h-1zM237 327h1v1h-1zM239 327h9v1h-9zM214 328h1v1h-1zM216 328h5v1h-5zM222 328h2v1h-2zM235 328h1v1h-1zM237 328h3v1h-3zM213 329h1v1h-1zM216 329h4v1h-4zM221 329h1v1h-1zM224 329h1v1h-1zM236 329h8v1h-8zM217 330h1v1h-1zM219 330h4v1h-4zM237 330h1v1h-1zM217 331h1v1h-1zM219 331h1v1h-1zM217 332h1v1h-1zM217 333h1v1h-1zM217 334h1v1h-1zM217 335h1v1h-1zM217 336h1v1h-1zM217 337h1v1h-1zM217 338h1v1h-1zM217 339h1v1h-1z"/>
<text class="big" x="84.03 92.03 100.03 108.03" y="23">8910</text>
<text class="big" x="268.02 276.02 285.76 292.02 300.02 308" y="23">80.00<tspan class="m">S</tspan></text>
<text class="big" x="332.02 340.02 348.02 357.76 364.02 372.02 380" y="23">165.00<tspan class="m">W</tspan></text>
<text class="big" x="420.02 428.02 436" y="23">67<tspan class="m">M</tspan></text>
<text class="big" x="68.03 76.03 85.76 92 100 108 117.76 124.03 132.03 140.03 148.03 156 164.03 172.03 180.03 188.03 196.03 204.03 212 220 228 237.76 245.42 253.76 260.02 268.02 277.76 284 292 300 309.76 316.02 324.02 332.02 340.02 348 356.02 364.02 372.02 380.02 388.02 396.02 404 412 420" y="36">21 <tspan class="m">Feb</tspan> 2015<tspan class="m">/</tspan>120000<tspan class="m">UTC</tspan> - 24 <tspan class="m">Feb</tspan> 2015<tspan class="m">/</tspan>000000<tspan class="m">UTC</tspan></text>
<text class="big" x="61.02 69.03" y="448">06</text>
<text class="big" x="100.03 108.03" y="448">12</text>
<text class="big" x="139.03 147.03" y="448">18</text>
<text class="big" x="178.03 186.03" y="448">00</text>
<text class="big" x="217.03 225.03" y="448">06</text>
<text class="big" x="257.02 265.02" y="448">12</text>
<text class="big" x="296.02 304.02" y="448">18</text>
<text class="big" x="335.02 343.02" y="448">00</text>
<text class="big" x="374.02 382.02" y="448">06</text>
<text class="big" x="413.02 421.02" y="448">12</text>
<text class="big" x="453.02 461.02" y="448">18</text>
<text class="big" x="492.02 500.02" y="448">00</text>
<text class="big" x="531.02 539.02" y="448">06</text>
<text class="big" x="162.03 170.03 179.76 186 194 202" y="462">22 <tspan class="m">Feb</tspan></text>
<text class="big" x="319.02 327.02 336.76 343 351 359" y="462">23 <tspan class="m">Feb</tspan></text>
<text class="big" x="476.02 484.02 493.76 500 508 516" y="462">24 <tspan class="m">Feb</tspan></text>
<text class="big" x="15.02" y="479">2</text>
<g transform="scale(1.15 1)">
<text class="sm" x="492 498.61 502.44" y="59">0.0</text>
<text class="sm" x="487.9 492 498.61 502.44" y="73">-5.0</text>
<text class="sm" x="482.68 486.79 492 498.61 502.44" y="87">-10.0</text>
<text class="sm" x="482.68 486.79 492 498.61 502.44" y="101">-15.0</text>
<text class="sm" x="482.68 486.79 492 498.61 502.44" y="115">-20.0</text>
<text class="sm" x="482.68 486.79 492 498.61 502.44" y="129">-25.0</text>
<text class="sm" x="482.68 486.79 492 498.61 502.44" y="142">-30.0</text>
<text class="sm" x="481.57 486.79 492 498.61 502.44" y="159">970.0</text>
<text class="sm" x="481.57 486.79 492 498.61 502.44" y="175">960.0</text>
<text class="sm" x="481.57 486.79 492 498.61 502.44" y="191">950.0</text>
<text class="sm" x="481.57 486.79 492 498.61 502.44" y="207">940.0</text>
<text class="sm" x="481.57 486.79 492 498.61 502.44" y="223">930.0</text>
<text class="sm" x="481.57 486.79 492 498.61 502.44" y="239">920.0</text>
<text class="sm" x="492 498.61 502.44" y="253">6.0</text>
<text class="sm" x="492 498.61 502.44" y="267">5.0</text>
<text class="sm" x="492 498.61 502.44" y="281">4.0</text>
<text class="sm" x="492 498.61 502.44" y="295">3.0</text>
<text class="sm" x="492 498.61 502.44" y="309">2.0</text>
<text class="sm" x="492 498.61 502.44" y="323">1.0</text>
<text class="sm" x="492 498.61 502.44" y="336">0.0</text>
<text class="sm" x="486.79 492 498.61 502.44" y="353">90.0</text>
<text class="sm" x="486.79 492 498.61 502.44" y="369">80.0</text>
<text class="sm" x="486.79 492 498.61 502.44" y="385">70.0</text>
<text class="sm" x="486.79 492 498.61 502.44" y="401">60.0</text>
<text class="sm" x="486.79 492 498.61 502.44" y="417">50.0</text>
<text class="sm" x="486.79 492 498.61 502.44" y="433">40.0</text>
</g>
<text class="smt" x="588.6" y="93">T(C)</text>
<text class="smt" x="588.6" y="190">Pre (mb)</text>
<text class="smt" x="588.6" y="287">SPD(MPS)</text>
<text class="smt" x="588.6" y="384">RH(%)</text>
</svg>
</body></html>
